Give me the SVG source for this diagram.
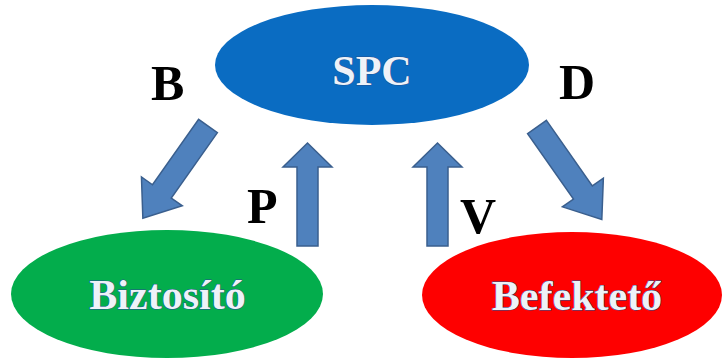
<svg xmlns="http://www.w3.org/2000/svg" width="722" height="358" viewBox="0 0 722 358">
  <defs>
    <style>
      .node-label { font-family: "Liberation Serif", "Times New Roman", serif; font-weight: bold; font-size: 42px; text-anchor: middle; fill: #eef2f8; stroke: #24508f; stroke-width: 0.9; paint-order: stroke; }
      .edge-label { font-family: "Liberation Serif", "Times New Roman", serif; font-weight: bold; font-size: 50px; fill: #000000; }
      .arrow { fill: #4f81bd; stroke: #3a5f8e; stroke-width: 1.5; stroke-linejoin: miter; }
    </style>
    <!-- block arrow pointing along +x, tail at origin -->
    <polygon id="diag-arrow" points="0,-11.5 80,-11.5 80,-25 113,0 80,25 80,11.5 0,11.5"/>
    <polygon id="up-arrow" points="-10.5,0 -10.5,-79 -24.5,-79 0,-103 24.5,-79 10.5,-79 10.5,0"/>
  </defs>

  <rect width="722" height="358" fill="#ffffff"/>

  <g id="spc">
    <ellipse cx="372" cy="65" rx="157" ry="60" fill="#0a6cc2"/>
    <text class="node-label" x="372" y="85">SPC</text>
  </g>

  <g id="biztosito">
    <ellipse cx="167" cy="294" rx="156" ry="64" fill="#03ad4c"/>
    <text class="node-label" x="167.5" y="309">Biztosító</text>
  </g>

  <g id="befekteto">
    <ellipse cx="572" cy="295" rx="150" ry="63" fill="#fe0000"/>
    <text class="node-label" x="577" y="310">Befektető</text>
  </g>

  <g id="connectors">
    <use href="#diag-arrow" class="arrow" transform="translate(208,126) rotate(125.2)"/>
    <use href="#diag-arrow" class="arrow" transform="translate(537,127) rotate(55)"/>
    <use href="#up-arrow" class="arrow" transform="translate(307.5,246)"/>
    <use href="#up-arrow" class="arrow" transform="translate(437.5,246)"/>
    <text class="edge-label" x="151" y="100">B</text>
    <text class="edge-label" x="559" y="99">D</text>
    <text class="edge-label" x="247" y="223">P</text>
    <text class="edge-label" x="460" y="233">V</text>
  </g>
</svg>
